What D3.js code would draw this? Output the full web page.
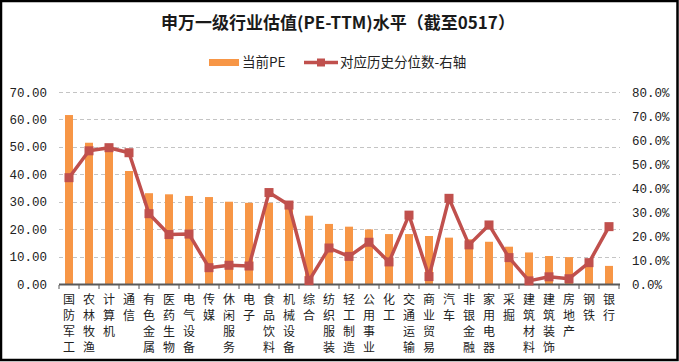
<!DOCTYPE html>
<html>
<head>
<meta charset="utf-8">
<script src="https://cdn.jsdelivr.net/npm/d3@7"></script>
<style>
  body { margin: 0; background: #fff; }
  svg { display: block; }
</style>
</head>
<body>
<div id="chart"></div>
<script>
// 申万一级行业 PE-TTM
const industries = ["国防军工", "农林牧渔", "计算机", "通信", "有色金属", "医药生物", "电气设备", "传媒",
  "休闲服务", "电子", "食品饮料", "机械设备", "综合", "纺织服装", "轻工制造", "公用事业", "化工",
  "交通运输", "商业贸易", "汽车", "非银金融", "家用电器", "采掘", "建筑材料", "建筑装饰", "房地产",
  "钢铁", "银行"];
const pe = [61.6, 51.5, 50.0, 41.2, 33.1, 32.7, 32.1, 31.7, 30.0, 29.6, 29.6, 28.8, 24.9, 21.9,
  20.9, 19.9, 18.2, 18.2, 17.5, 16.9, 16.3, 15.4, 13.6, 11.5, 10.2, 9.8, 8.6, 6.6];
const pctile = [0.443, 0.555, 0.568, 0.547, 0.293, 0.206, 0.208, 0.068, 0.078, 0.075, 0.381, 0.329,
  0.014, 0.150, 0.115, 0.174, 0.092, 0.287, 0.031, 0.357, 0.163, 0.246, 0.110, 0.013, 0.030, 0.022,
  0.089, 0.239];
const leftTicks = [0, 10, 20, 30, 40, 50, 60, 70];
const rightTicks = [0, 0.1, 0.2, 0.3, 0.4, 0.5, 0.6, 0.7, 0.8];

const W = 679, H = 362;
const barColor = "#F79646", lineColor = "#C0504D";
const cjk = "'Noto Sans CJK SC', sans-serif";
const num = "'Liberation Mono', monospace";

const svg = d3.select("#chart").append("svg")
    .attr("width", W)
    .attr("height", H);

svg.append("rect")
    .attr("x", 1).attr("y", 1)
    .attr("width", W - 2.5).attr("height", H - 3)
    .attr("fill", "#fff")
    .attr("stroke", "#000")
    .attr("stroke-width", 2.5);

const x = d3.scaleBand().domain(industries).range([59, 619]).paddingInner(0.6).paddingOuter(0.3);
const y = d3.scaleLinear().domain([0, 70]).range([284, 92]);
const y2 = d3.scaleLinear().domain([0, 0.8]).range([284, 92]);

// title
svg.append("text")
    .attr("x", 338).attr("y", 29)
    .attr("text-anchor", "middle")
    .style("font-family", cjk)
    .style("font-size", "17px")
    .style("font-weight", "bold")
    .attr("fill", "#1a1a1a")
    .text("申万一级行业估值(PE-TTM)水平（截至0517）");

// legend
const leg = svg.append("g").style("font-family", cjk).style("font-size", "13.5px").attr("fill", "#222");
leg.append("rect").attr("x", 209).attr("y", 59).attr("width", 30).attr("height", 7).attr("fill", barColor);
leg.append("text").attr("x", 242).attr("y", 67).text("当前PE");
leg.append("line").attr("x1", 304).attr("x2", 338).attr("y1", 62.5).attr("y2", 62.5)
    .attr("stroke", lineColor).attr("stroke-width", 3.5);
leg.append("rect").attr("x", 317).attr("y", 58.5).attr("width", 8).attr("height", 8).attr("fill", lineColor);
leg.append("text").attr("x", 340).attr("y", 67).text("对应历史分位数-右轴");

// gridlines
svg.append("g")
    .selectAll("line")
    .data(leftTicks.slice(1))
    .join("line")
    .attr("x1", 59).attr("x2", 620)
    .attr("y1", d => Math.round(y(d)) + 0.5)
    .attr("y2", d => Math.round(y(d)) + 0.5)
    .attr("stroke", "#c4c4c4")
    .attr("stroke-dasharray", "4,3");

// left axis
const yAxis = svg.append("g")
    .attr("transform", "translate(59,0)")
    .call(d3.axisLeft(y).tickValues(leftTicks).tickFormat(d3.format(".2f")).tickSize(0).tickPadding(12));
yAxis.select(".domain").remove();
yAxis.selectAll("text").style("font-family", num).style("font-size", "12.5px").attr("fill", "#222");

// right axis
const y2Axis = svg.append("g")
    .attr("transform", "translate(620,0)")
    .call(d3.axisRight(y2).tickValues(rightTicks).tickFormat(d3.format(".1%")).tickSize(0).tickPadding(12));
y2Axis.select(".domain").remove();
y2Axis.selectAll("text").style("font-family", num).style("font-size", "12.5px").attr("fill", "#222");

// bars
svg.append("g")
    .selectAll("rect")
    .data(industries)
    .join("rect")
    .attr("x", d => x(d))
    .attr("width", x.bandwidth())
    .attr("y", (d, i) => y(pe[i]))
    .attr("height", (d, i) => y(0) - y(pe[i]))
    .attr("fill", barColor);

// x axis baseline and ticks
svg.append("line")
    .attr("x1", 59).attr("x2", 620)
    .attr("y1", 284.5).attr("y2", 284.5)
    .attr("stroke", "#595959").attr("stroke-width", 2);
svg.append("g")
    .selectAll("line")
    .data(d3.range(industries.length + 1))
    .join("line")
    .attr("x1", i => 59 + i * x.step()).attr("x2", i => 59 + i * x.step())
    .attr("y1", 285).attr("y2", 289)
    .attr("stroke", "#595959");

// category labels, one character per line
const chars = industries.flatMap(d => Array.from(d).map((c, k) => ({ c, k, cx: x(d) + x.bandwidth() / 2 })));
svg.append("g")
    .selectAll("text")
    .data(chars)
    .join("text")
    .attr("x", d => d.cx)
    .attr("y", d => 304 + d.k * 16)
    .attr("text-anchor", "middle")
    .style("font-family", cjk)
    .style("font-size", "12px")
    .attr("fill", "#222")
    .text(d => d.c);

// percentile line
const pts = industries.map((d, i) => [x(d) + x.bandwidth() / 2, y2(pctile[i])]);
svg.append("path")
    .attr("d", d3.line()(pts))
    .attr("fill", "none")
    .attr("stroke", lineColor)
    .attr("stroke-width", 3.5)
    .attr("stroke-linejoin", "round");
svg.append("g")
    .selectAll("rect")
    .data(pts)
    .join("rect")
    .attr("x", d => d[0] - 4.5)
    .attr("y", d => d[1] - 4.5)
    .attr("width", 9).attr("height", 9)
    .attr("fill", lineColor);
</script>
</body>
</html>
